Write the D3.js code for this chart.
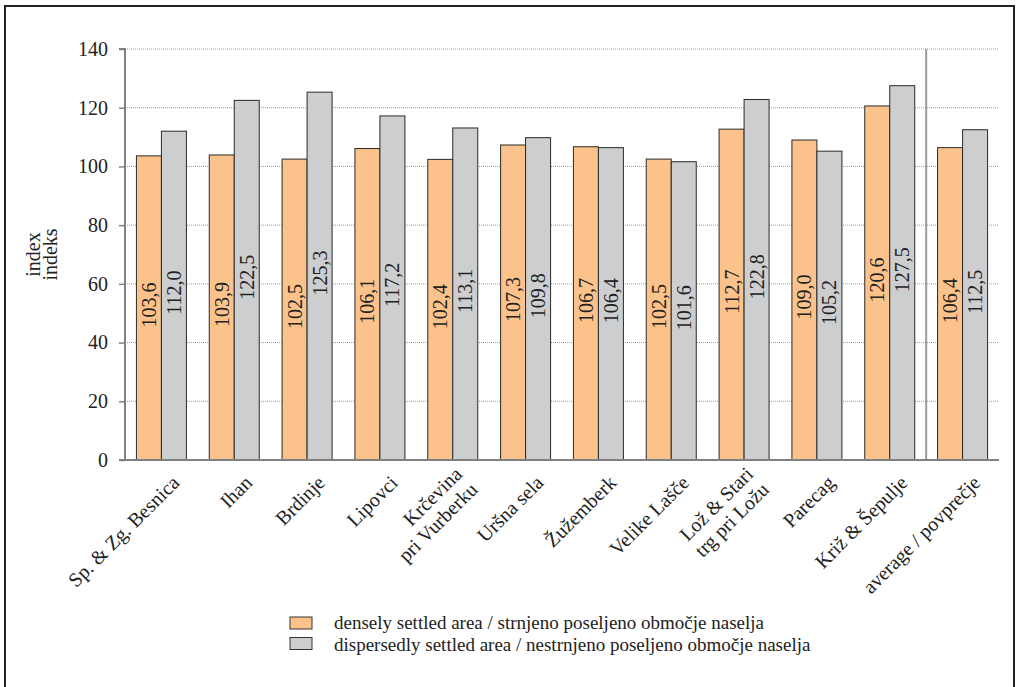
<!DOCTYPE html>
<html><head><meta charset="utf-8">
<script src="https://cdn.jsdelivr.net/npm/d3@7/dist/d3.min.js"></script>
<style>
html,body{margin:0;padding:0;background:#fff;}
svg{display:block;font-family:"Liberation Serif","Times New Roman",serif;}
</style></head>
<body>
<svg id="chart" width="1016" height="687"></svg>
<script>
const categories = [
  ["Sp. & Zg. Besnica"], ["Ihan"], ["Brdinje"], ["Lipovci"],
  ["Krčevina", "pri Vurberku"], ["Uršna sela"], ["Žužemberk"], ["Velike Lašče"],
  ["Lož & Stari", "trg pri Ložu"], ["Parecag"], ["Križ & Šepulje"], ["average / povprečje"]
];
const densely = [103.6, 103.9, 102.5, 106.1, 102.4, 107.3, 106.7, 102.5, 112.7, 109.0, 120.6, 106.4];
const dispersed = [112.0, 122.5, 125.3, 117.2, 113.1, 109.8, 106.4, 101.6, 122.8, 105.2, 127.5, 112.5];
const yTicks = [0, 20, 40, 60, 80, 100, 120, 140];
const seriesNames = [
  "densely settled area / strnjeno poseljeno območje naselja",
  "dispersedly settled area / nestrnjeno poseljeno območje naselja"
];
const colors = ["#fbc38b", "#cdced0"];
const yTitle = ["index", "indeks"];

const FF = '"Liberation Serif","Times New Roman",serif';
const svg = d3.select("#chart");
const L = 125, R = 999, T = 49, B = 460;

svg.append("rect").attr("x", 5).attr("y", 6).attr("width", 1009).attr("height", 690)
  .attr("fill", "none").attr("stroke", "#222").attr("stroke-width", 2);

const x = d3.scaleBand().domain(d3.range(categories.length)).range([L, R]).paddingInner(0).paddingOuter(0);
const bw = 25;
const y = d3.scaleLinear().domain([0, 140]).range([B, T]);

// grid
svg.append("g").selectAll("line").data(yTicks.filter(d => d > 0)).join("line")
  .attr("x1", L).attr("x2", R).attr("y1", d => y(d)).attr("y2", d => y(d))
  .attr("stroke", "#9a9a9a").attr("stroke-width", 1).attr("stroke-dasharray", "1,1");

// bars
const series = [densely, dispersed];
series.forEach((vals, s) => {
  const g = svg.append("g");
  g.selectAll("rect").data(vals).join("rect")
    .attr("x", (d, i) => x(i) + x.bandwidth() / 2 - bw + s * bw)
    .attr("y", d => y(d))
    .attr("width", bw)
    .attr("height", d => y(0) - y(d))
    .attr("fill", colors[s]).attr("stroke", "#2a2a2a").attr("stroke-width", 1);
  g.selectAll("text").data(vals).join("text")
    .attr("transform", (d, i) => `translate(${x(i) + x.bandwidth() / 2 - bw / 2 + s * bw},${(y(d) + y(0)) / 2 - 3}) rotate(-90)`)
    .attr("text-anchor", "middle").attr("dy", "0.35em")
    .attr("font-size", 20).attr("fill", "#222")
    .text(d => d.toFixed(1).replace(".", ","));
});

// separator
svg.append("line").attr("x1", x(11)).attr("x2", x(11)).attr("y1", T).attr("y2", B)
  .attr("stroke", "#9a9a9a").attr("stroke-width", 2);

// y axis
const yAxis = svg.append("g").attr("transform", `translate(${L},0)`)
  .call(d3.axisLeft(y).tickValues(yTicks).tickSize(6).tickPadding(11));
yAxis.attr("font-family", FF).attr("font-size", 20);
yAxis.select(".domain").attr("stroke", "#808080").attr("stroke-width", 2).attr("d", `M-6,${T}H0V${B}`);
yAxis.selectAll(".tick line").attr("stroke", "#808080").attr("stroke-width", 1.5);
yAxis.selectAll(".tick text").attr("fill", "#222");

// x axis line
svg.append("line").attr("x1", L - 6).attr("x2", R).attr("y1", B).attr("y2", B)
  .attr("stroke", "#808080").attr("stroke-width", 2);

// x labels
const xl = svg.append("g").selectAll("text").data(categories).join("text")
  .attr("transform", (d, i) => `translate(${x(i) + x.bandwidth() / 2 + 9},${B + 14}) rotate(-45)`)
  .attr("text-anchor", "end").attr("font-size", 20).attr("fill", "#222");
xl.each(function(d) {
  const t = d3.select(this);
  if (d.length === 1) {
    t.append("tspan").attr("x", 0).attr("dy", "0.71em").text(d[0]);
  } else {
    t.append("tspan").attr("x", 0).attr("dy", "0.1em").text(d[0]);
    t.append("tspan").attr("x", 0).attr("dy", "1.1em").text(d[1]);
  }
});

// y title
const yt = svg.append("text").attr("transform", `translate(33,${(T + B) / 2}) rotate(-90)`)
  .attr("text-anchor", "middle").attr("font-size", 20).attr("fill", "#222");
yt.append("tspan").attr("x", 0).attr("dy", "0.35em").text(yTitle[0]);
yt.append("tspan").attr("x", 0).attr("dy", "0.85em").text(yTitle[1]);

// legend
const lg = svg.append("g");
seriesNames.forEach((n, i) => {
  lg.append("rect").attr("x", 290).attr("y", 617 + i * 20.5).attr("width", 22).attr("height", 12)
    .attr("fill", colors[i]).attr("stroke", "#333").attr("stroke-width", 1);
  lg.append("text").attr("x", 334).attr("y", 623 + i * 21.5).attr("dy", "0.33em")
    .attr("font-size", 19).attr("fill", "#222").text(n);
});
</script>
</body></html>
